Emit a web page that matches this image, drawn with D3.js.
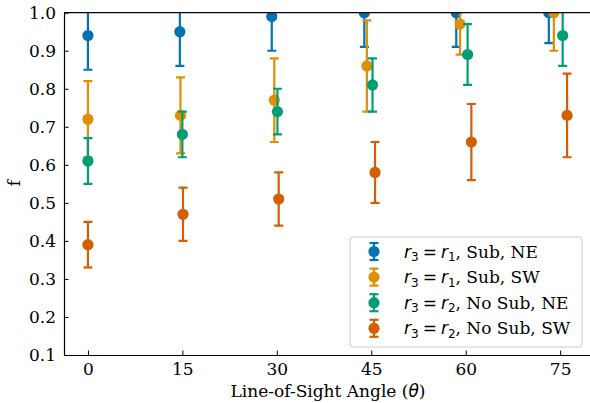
<!DOCTYPE html>
<html>
<head>
<meta charset="utf-8">
<script src="https://cdn.jsdelivr.net/npm/d3@7"></script>
<style>
  body { margin: 0; background: #fff; }
  svg { display: block; }
  text { font-family: "DejaVu Serif", serif; fill: #000; }
</style>
</head>
<body>
<div class="graph"></div>
<script>
const width = 590;
const height = 403;
const margin = { left: 64, top: 12.7, right: -1, bottom: 48 };
const fontSize = 17;

// series names / colours
const seriesNames = ['r3=r1, Sub, NE', 'r3=r1, Sub, SW', 'r3=r2, No Sub, NE', 'r3=r2, No Sub, SW'];
const colors = ['#0173b2', '#de8f05', '#029e73', '#d55e00'];

// legend label pieces: subscript of r on the right hand side, rest of the label
const rhsSub = ['1', '1', '2', '2'];
const labelTail = [', Sub, NE', ', Sub, SW', ', No Sub, NE', ', No Sub, SW'];

// x positions (angles are slightly offset per series)
const angleNE_sub = [0, 14.6, 29.2, 43.9, 58.5, 73.2];
const angleSW_sub = [0, 14.7, 29.6, 44.3, 59.1, 74.0];
const angleNE_nosub = [0, 15.0, 30.1, 45.2, 60.3, 75.4];
const angleSW_nosub = [0, 15.1, 30.3, 45.6, 60.9, 76.1];

// f values
const fNE_sub = [0.94, 0.95, 0.99, 1.00, 1.00, 1.00];
const fSW_sub = [0.72, 0.73, 0.77, 0.86, 0.97, 1.00];
const fNE_nosub = [0.61, 0.68, 0.74, 0.81, 0.89, 0.94];
const fSW_nosub = [0.39, 0.47, 0.51, 0.58, 0.66, 0.73];

// error bar half widths
const errNE_sub = [0.09, 0.09, 0.09, 0.09, 0.09, 0.08];
const errSW_sub = [0.10, 0.10, 0.11, 0.12, 0.08, 0.10];
const errNE_nosub = [0.06, 0.06, 0.06, 0.07, 0.08, 0.08];
const errSW_nosub = [0.06, 0.07, 0.07, 0.08, 0.10, 0.11];

const xTicks = [0, 15, 30, 45, 60, 75];
const yTicks = [0.1, 0.2, 0.3, 0.4, 0.5, 0.6, 0.7, 0.8, 0.9, 1.0];

const allX = [angleNE_sub, angleSW_sub, angleNE_nosub, angleSW_nosub];
const allY = [fNE_sub, fSW_sub, fNE_nosub, fSW_nosub];
const allErr = [errNE_sub, errSW_sub, errNE_nosub, errSW_nosub];

const series = seriesNames.map((name, i) => ({
  name: name,
  color: colors[i],
  points: allX[i].map((x, j) => ({ x: x, y: allY[i][j], e: allErr[i][j] }))
}));

const x = d3.scaleLinear().domain([-3.8, 79.9]).range([margin.left, width - margin.right]);
const y = d3.scaleLinear().domain([0.1, 1.0]).range([height - margin.bottom, margin.top]);

const svg = d3.select('.graph').append('svg')
  .attr('width', width)
  .attr('height', height);

svg.append('clipPath').attr('id', 'clip')
  .append('rect')
  .attr('x', margin.left)
  .attr('y', margin.top)
  .attr('width', width - margin.right - margin.left)
  .attr('height', height - margin.bottom - margin.top);

const plot = svg.append('g').attr('clip-path', 'url(#clip)');

const capW = 4.5;
const lw = 2.2;

series.forEach((s) => {
  let g = plot.append('g');
  let pts = g.selectAll('g').data(s.points).enter().append('g');

  pts.append('line')
    .attr('x1', (d) => x(d.x)).attr('x2', (d) => x(d.x))
    .attr('y1', (d) => y(d.y - d.e)).attr('y2', (d) => y(d.y + d.e))
    .attr('stroke', s.color).attr('stroke-width', lw);

  [-1, 1].forEach((sign) => {
    pts.append('line')
      .attr('x1', (d) => x(d.x) - capW).attr('x2', (d) => x(d.x) + capW)
      .attr('y1', (d) => y(d.y + sign * d.e)).attr('y2', (d) => y(d.y + sign * d.e))
      .attr('stroke', s.color).attr('stroke-width', lw);
  });

  pts.append('circle')
    .attr('cx', (d) => x(d.x)).attr('cy', (d) => y(d.y))
    .attr('r', 5.6)
    .attr('fill', s.color);
});

/* axes */
const xAxis = svg.append('g')
  .attr('transform', 'translate(0,' + (height - margin.bottom) + ')')
  .call(d3.axisBottom(x).tickValues(xTicks).tickSizeInner(-4.5).tickSizeOuter(0).tickPadding(8));

const yAxis = svg.append('g')
  .attr('transform', 'translate(' + margin.left + ',0)')
  .call(d3.axisLeft(y).tickValues(yTicks).tickFormat(d3.format('.1f')).tickSizeInner(-4.5).tickSizeOuter(0).tickPadding(8));

[xAxis, yAxis].forEach((a) => {
  a.select('.domain').attr('stroke', '#000').attr('stroke-width', 1.2);
  a.selectAll('.tick line').attr('stroke', '#000').attr('stroke-width', 1);
  a.selectAll('.tick text')
    .attr('font-family', 'DejaVu Serif')
    .attr('font-size', fontSize)
    .attr('fill', '#000');
});

// top spine
svg.append('line')
  .attr('x1', margin.left).attr('x2', width)
  .attr('y1', margin.top).attr('y2', margin.top)
  .attr('stroke', '#000').attr('stroke-width', 1.2);

const xl = svg.append('text')
  .attr('x', 328)
  .attr('y', 397)
  .attr('text-anchor', 'middle')
  .attr('font-size', fontSize);
xl.append('tspan').text('Line-of-Sight Angle (');
xl.append('tspan').attr('font-family', 'DejaVu Sans').attr('font-style', 'italic').text('θ');
xl.append('tspan').text(')');

svg.append('text')
  .attr('transform', 'translate(20,' + 183 + ') rotate(-90)')
  .attr('text-anchor', 'middle')
  .attr('font-size', fontSize)
  .text('f');

/* legend */
const legend = svg.append('g').attr('transform', 'translate(350,237)');
legend.append('rect')
  .attr('width', 232).attr('height', 110)
  .attr('rx', 3)
  .attr('fill', '#fff').attr('fill-opacity', 0.8)
  .attr('stroke', '#ccc');

const rowH = 25.6;
const item = legend.selectAll('g.item')
  .data(series)
  .enter().append('g')
  .attr('class', 'item')
  .attr('transform', (d, i) => 'translate(0,' + (14.5 + rowH * i) + ')');

item.append('line')
  .attr('x1', 24).attr('x2', 24).attr('y1', -8.5).attr('y2', 8.5)
  .attr('stroke', (d) => d.color).attr('stroke-width', lw);
[-8.5, 8.5].forEach((yy) => {
  item.append('line')
    .attr('x1', 24 - capW).attr('x2', 24 + capW).attr('y1', yy).attr('y2', yy)
    .attr('stroke', (d) => d.color).attr('stroke-width', lw);
});
item.append('circle')
  .attr('cx', 24).attr('cy', 0).attr('r', 5.6)
  .attr('fill', (d) => d.color);

const lt = item.append('text')
  .attr('x', 54).attr('y', 6)
  .attr('font-size', fontSize);
lt.append('tspan').attr('font-family', 'DejaVu Sans').attr('font-style', 'italic').text('r');
lt.append('tspan').attr('font-family', 'DejaVu Sans').attr('font-size', 12).attr('dy', 3.5).text('3');
lt.append('tspan').attr('font-family', 'DejaVu Sans').attr('dy', -3.5).attr('dx', 4).text('=');
lt.append('tspan').attr('font-family', 'DejaVu Sans').attr('font-style', 'italic').attr('dx', 4).text('r');
lt.append('tspan').attr('font-family', 'DejaVu Sans').attr('font-size', 12).attr('dy', 3.5).text((d, i) => rhsSub[i]);
lt.append('tspan').attr('dy', -3.5).text((d, i) => labelTail[i]);
</script>
</body>
</html>
